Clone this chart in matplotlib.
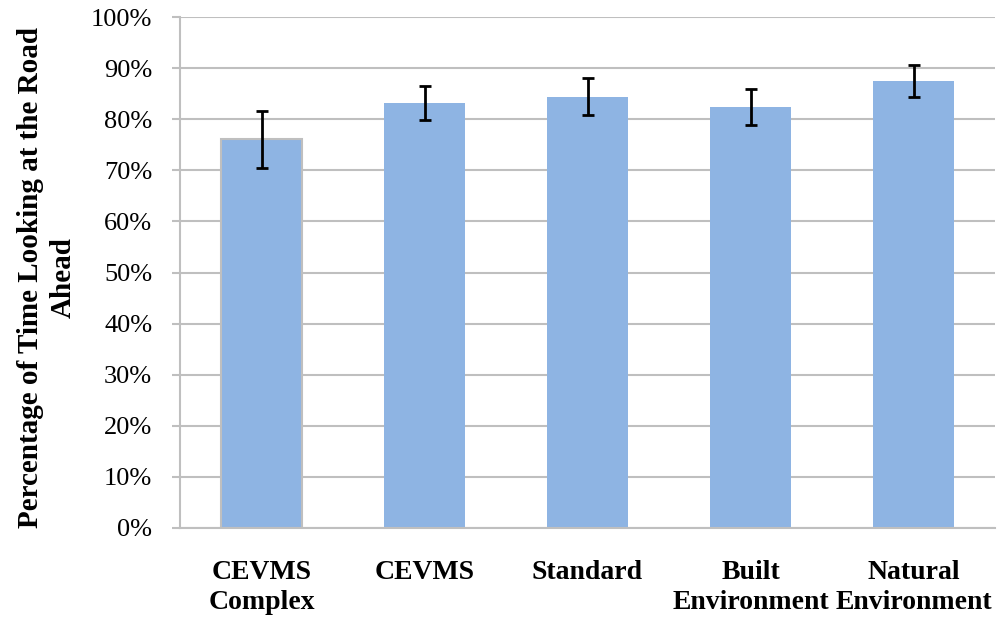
import matplotlib

matplotlib.use("Agg")
import matplotlib.pyplot as plt
import numpy as np
from matplotlib.ticker import FuncFormatter, MultipleLocator

# Values (percent)
CATEGORIES = ["CEVMS\nComplex", "CEVMS", "Standard", "Built\nEnvironment", "Natural\nEnvironment"]
MEANS = [76.1, 83.2, 84.4, 82.4, 87.4]
ERRORS = [5.6, 3.3, 3.6, 3.45, 3.15]

BAR_COLOR = "#8EB4E3"
GRID_COLOR = "#BFBFBF"
FONT = ["Liberation Serif", "DejaVu Serif"]

plt.rcParams["font.family"] = FONT

fig = plt.figure(figsize=(9.98, 6.17), dpi=100)
ax = fig.add_axes([180 / 998, 1 - 528 / 617, 815 / 998, 511 / 617])

x = np.arange(len(CATEGORIES))
bars = ax.bar(x, MEANS, width=0.5, color=BAR_COLOR, zorder=2)
# first bar has a light grey outline in the original
bars[0].set_edgecolor("#BFBFBF")
bars[0].set_linewidth(1.5)

ax.errorbar(x, MEANS, yerr=ERRORS, fmt="none", ecolor="black",
            elinewidth=2, capsize=4.3, capthick=2, zorder=3)

ax.set_xlim(-0.5, len(CATEGORIES) - 0.5)
ax.set_ylim(0, 100)
ax.yaxis.set_major_locator(MultipleLocator(10))
ax.yaxis.set_major_formatter(FuncFormatter(lambda v, _: f"{v:.0f}%"))
ax.grid(axis="y", color=GRID_COLOR, linewidth=1.5, zorder=0)
ax.set_axisbelow(True)

for side in ("top", "right"):
    ax.spines[side].set_visible(False)
for side in ("left", "bottom"):
    ax.spines[side].set_color(GRID_COLOR)
    ax.spines[side].set_linewidth(1.5)

ax.tick_params(axis="y", colors=GRID_COLOR, labelcolor="black", labelsize=19,
               length=6, width=1.5, pad=14)
ax.tick_params(axis="x", length=0, pad=23, labelsize=20)
ax.set_xticks(x)
ax.set_xticklabels(CATEGORIES, fontweight="bold", linespacing=1.25)

fig.text(47 / 998, 1 - 278 / 617, "Percentage of Time Looking at the Road\nAhead",
         rotation=90, ha="center", va="center", fontsize=21, fontweight="bold",
         linespacing=1.3, multialignment="center")

fig.savefig("out.png", dpi=100, facecolor="white")
